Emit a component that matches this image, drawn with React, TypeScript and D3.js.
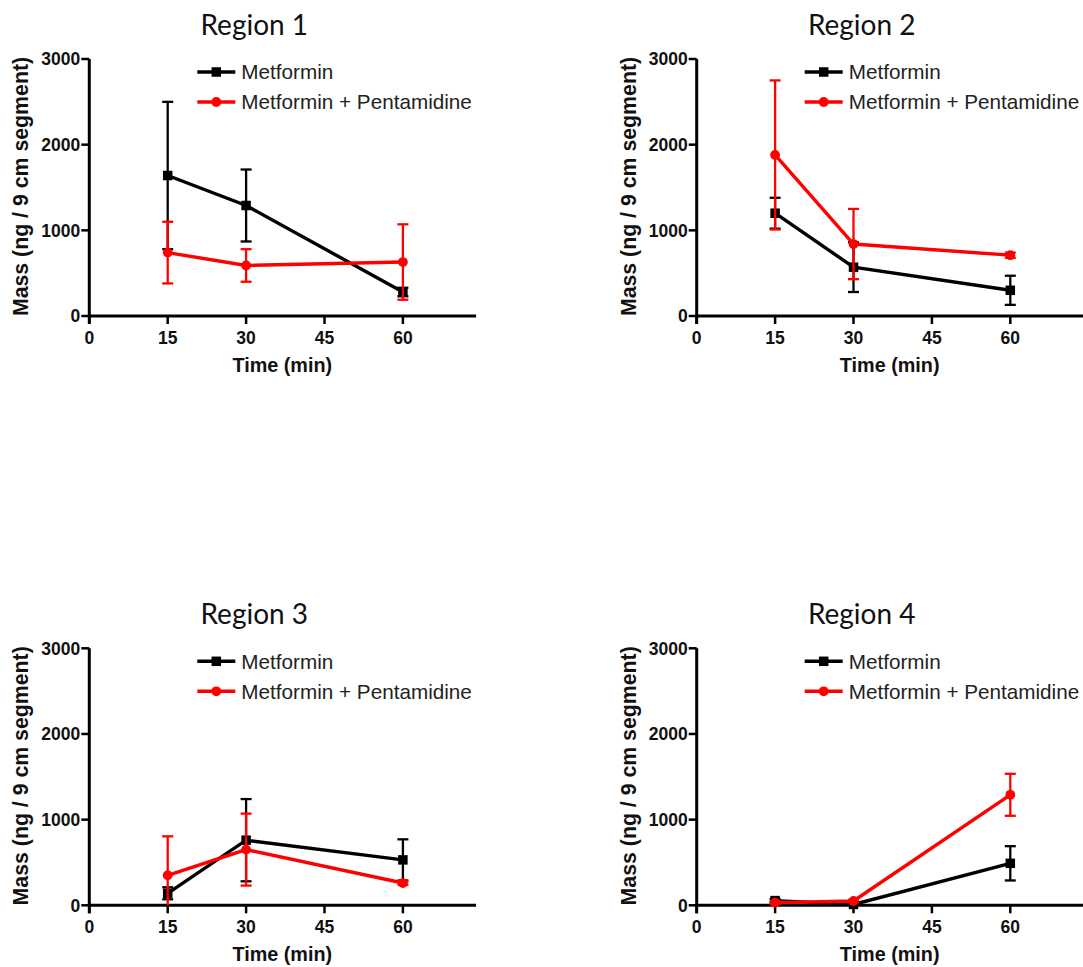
import React from "react";
import * as d3 from "d3";

const times = [15, 30, 60];
const xTicks = [0, 15, 30, 45, 60];
const yTicks = [0, 1000, 2000, 3000];
const regionTitles = ["Region 1", "Region 2", "Region 3", "Region 4"];
const seriesNames = ["Metformin", "Metformin + Pentamidine"];

const r1Met = [1640, 1290, 280];
const r1MetErr = [860, 420, 50];
const r1Pen = [740, 590, 630];
const r1PenErr = [360, 190, 440];

const r2Met = [1200, 570, 300];
const r2MetErr = [180, 290, 170];
const r2Pen = [1880, 840, 710];
const r2PenErr = [870, 410, 30];

const r3Met = [140, 760, 530];
const r3MetErr = [70, 480, 240];
const r3Pen = [350, 650, 260];
const r3PenErr = [455, 420, 20];

const r4Met = [55, 10, 490];
const r4MetErr = [20, 10, 200];
const r4Pen = [30, 50, 1290];
const r4PenErr = [15, 15, 245];

const panelsData = [
  { met: r1Met, metErr: r1MetErr, pen: r1Pen, penErr: r1PenErr },
  { met: r2Met, metErr: r2MetErr, pen: r2Pen, penErr: r2PenErr },
  { met: r3Met, metErr: r3MetErr, pen: r3Pen, penErr: r3PenErr },
  { met: r4Met, metErr: r4MetErr, pen: r4Pen, penErr: r4PenErr },
];

// layout
const panelPos = [
  { x0: 89.3, yTop: 59, yBot: 316 },
  { x0: 696.7, yTop: 59, yBot: 316 },
  { x0: 89.3, yTop: 648.3, yBot: 905.3 },
  { x0: 696.7, yTop: 648.3, yBot: 905.3 },
];
const xUnit = 78.4 / 15;
const xMax = 74;

const BLACK = "#000000";
const RED = "#ff0000";
const ARIAL = "'Liberation Sans', Arial, sans-serif";

function Panel({ idx }: { idx: number }) {
  const p = panelPos[idx];
  const d = panelsData[idx];
  const x = d3.scaleLinear().domain([0, xMax]).range([p.x0, p.x0 + xMax * xUnit]);
  const y = d3.scaleLinear().domain([0, 3000]).range([p.yBot, p.yTop]);
  const line = d3
    .line<number>()
    .x((_, i) => x(times[i]))
    .y((v) => y(v));

  const series = [
    { vals: d.met, errs: d.metErr, color: BLACK, shape: "square" },
    { vals: d.pen, errs: d.penErr, color: RED, shape: "circle" },
  ];

  const cap = 5.5;
  const sq = 9.5;

  const marker = (cx: number, cy: number, shape: string, color: string, key: string) =>
    shape === "square" ? (
      <rect key={key} x={cx - sq / 2} y={cy - sq / 2} width={sq} height={sq} fill={color} />
    ) : (
      <circle key={key} cx={cx} cy={cy} r={4.9} fill={color} />
    );

  const legendX = p.x0 + 108;
  const legendY = [p.yTop + 13, p.yTop + 43];

  return (
    <g>
      {/* title */}
      <text
        x={p.x0 + 165}
        y={p.yTop - 24}
        textAnchor="middle"
        fontFamily="Lato, 'Open Sans', sans-serif"
        fontSize={28}
        fill="#111"
      >
        {regionTitles[idx]}
      </text>

      {/* axes */}
      <line x1={p.x0} x2={p.x0} y1={p.yTop} y2={p.yBot + 8} stroke="#000" strokeWidth={3} />
      <line x1={p.x0 - 1.5} x2={x(xMax)} y1={p.yBot} y2={p.yBot} stroke="#000" strokeWidth={3} />
      {yTicks.map((t) => (
        <g key={"y" + t}>
          <line x1={p.x0 - 8} x2={p.x0} y1={y(t)} y2={y(t)} stroke="#000" strokeWidth={2.5} />
          <text
            x={p.x0 - 9}
            y={y(t)}
            dy="0.36em"
            textAnchor="end"
            fontFamily={ARIAL}
            fontWeight="bold"
            fontSize={17.5}
            fill="#111"
          >
            {t}
          </text>
        </g>
      ))}
      {xTicks.map((t) => (
        <g key={"x" + t}>
          <line x1={x(t)} x2={x(t)} y1={p.yBot} y2={p.yBot + 8} stroke="#000" strokeWidth={2.5} />
          <text
            x={x(t)}
            y={p.yBot + 28}
            textAnchor="middle"
            fontFamily={ARIAL}
            fontWeight="bold"
            fontSize={17.5}
            fill="#111"
          >
            {t}
          </text>
        </g>
      ))}
      <text
        x={p.x0 + 193}
        y={p.yBot + 56}
        textAnchor="middle"
        fontFamily={ARIAL}
        fontWeight="bold"
        fontSize={19.8}
        fill="#111"
      >
        Time (min)
      </text>
      <text
        transform={`translate(${p.x0 - 61},${(p.yTop + p.yBot) / 2 - 1}) rotate(-90)`}
        textAnchor="middle"
        fontFamily={ARIAL}
        fontWeight="bold"
        fontSize={21.3}
        fill="#111"
      >
        Mass (ng / 9 cm segment)
      </text>

      {/* series */}
      {series.map((s, si) => (
        <g key={"s" + si}>
          {s.vals.map((v, i) => {
            const hi = v + s.errs[i];
            const loRaw = v - s.errs[i];
            const lo = Math.max(0, loRaw);
            const cx = x(times[i]);
            return (
              <g key={"e" + i} stroke={s.color} strokeWidth={2.3}>
                <line x1={cx} x2={cx} y1={y(hi)} y2={y(lo)} />
                <line x1={cx - cap} x2={cx + cap} y1={y(hi)} y2={y(hi)} />
                {loRaw > 0 && <line x1={cx - cap} x2={cx + cap} y1={y(lo)} y2={y(lo)} />}
              </g>
            );
          })}
          <path d={line(s.vals) || ""} fill="none" stroke={s.color} strokeWidth={3.4} />
          {s.vals.map((v, i) => marker(x(times[i]), y(v), s.shape, s.color, "m" + i))}
        </g>
      ))}

      {/* legend */}
      {series.map((s, si) => (
        <g key={"l" + si}>
          <line
            x1={legendX}
            x2={legendX + 38}
            y1={legendY[si]}
            y2={legendY[si]}
            stroke={s.color}
            strokeWidth={3.4}
          />
          {marker(legendX + 19, legendY[si], s.shape, s.color, "lm" + si)}
          <text
            x={legendX + 44}
            y={legendY[si]}
            dy="0.36em"
            fontFamily={ARIAL}
            fontSize={20.7}
            fill="#222"
          >
            {seriesNames[si]}
          </text>
        </g>
      ))}
    </g>
  );
}

export default function App() {
  return (
    <svg
      width={1083}
      height={967}
      style={{ position: "absolute", left: 0, top: 0, background: "#fff" }}
    >
      <rect width={1083} height={967} fill="#fff" />
      {[0, 1, 2, 3].map((i) => (
        <Panel key={i} idx={i} />
      ))}
    </svg>
  );
}
